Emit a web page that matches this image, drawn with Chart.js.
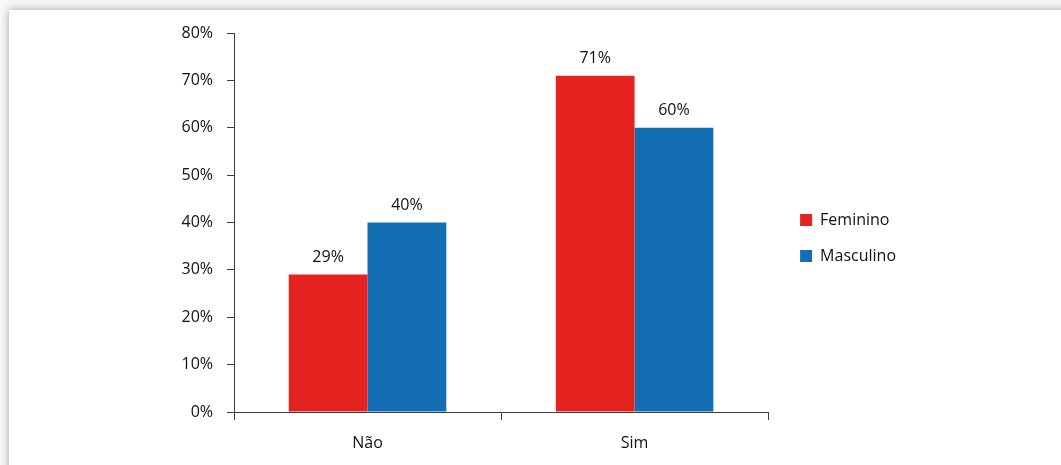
<!DOCTYPE html>
<html lang="pt">
<head>
<meta charset="utf-8">
<title>Feminino x Masculino</title>
<script src="https://cdn.jsdelivr.net/npm/chart.js@4/dist/chart.umd.min.js"></script>
<style>
  html, body { margin: 0; padding: 0; background: #f7f7f7; }
  body { width: 1061px; height: 465px; position: relative; overflow: hidden; }
  .card {
    position: absolute; left: 9px; top: 10px; width: 1100px; height: 500px;
    background: #fff; box-shadow: 0 0 8px rgba(0, 0, 0, 0.35);
  }
  #wrap { position: absolute; left: 0; top: 0; width: 1061px; height: 465px; }
</style>
</head>
<body>
<div class="card"></div>
<div id="wrap"><canvas id="chart"></canvas></div>
<script>
// categories and series (values in %)
const categories = ['Não', 'Sim'];
const feminino = [29, 71];
const masculino = [40, 60];
const seriesNames = ['Feminino', 'Masculino'];
const seriesColors = ['#e42320', '#146eb4'];

const textColor = '#111';
const axisColor = '#3c3c3c';
const font = { family: '"Open Sans", sans-serif', size: 16 };

// value labels above each bar
const barLabels = {
  id: 'barLabels',
  afterDatasetsDraw(chart) {
    const ctx = chart.ctx;
    ctx.save();
    ctx.font = `${font.size}px ${font.family}`;
    ctx.fillStyle = textColor;
    ctx.textAlign = 'center';
    ctx.textBaseline = 'alphabetic';
    chart.data.datasets.forEach((ds, i) => {
      chart.getDatasetMeta(i).data.forEach((bar, j) => {
        ctx.fillText(ds.data[j] + '%', bar.x, bar.y - 13);
      });
    });
    ctx.restore();
  }
};

// nudge the legend a bit away from the plot
const legendNudge = {
  id: 'legendNudge',
  afterLayout(chart) {
    const lg = chart.legend;
    lg.left += 12; lg.right += 12;
    lg.top -= 11; lg.bottom -= 11;
  }
};

new Chart(document.getElementById('chart'), {
  type: 'bar',
  data: {
    labels: categories,
    datasets: [
      { label: seriesNames[0], data: feminino, backgroundColor: seriesColors[0] },
      { label: seriesNames[1], data: masculino, backgroundColor: seriesColors[1] }
    ]
  },
  options: {
    responsive: true,
    maintainAspectRatio: false,
    animation: false,
    layout: { padding: { left: 154, top: 33, right: 167, bottom: 0 } },
    datasets: { bar: { categoryPercentage: 0.59, barPercentage: 1.0 } },
    plugins: {
      tooltip: { enabled: false },
      legend: {
        position: 'right',
        labels: { boxWidth: 12, boxHeight: 12, padding: 20, color: textColor, font: font }
      }
    },
    scales: {
      x: {
        grid: { drawOnChartArea: false, tickLength: 8, color: axisColor, offset: true },
        border: { color: axisColor },
        ticks: { color: textColor, font: font, padding: 14 },
        afterFit(scale) { scale.height = 53; }
      },
      y: {
        min: 0, max: 80,
        grid: { drawOnChartArea: false, tickLength: 7, color: axisColor },
        border: { color: axisColor },
        ticks: { stepSize: 10, color: textColor, font: font, padding: 14, callback: v => v + '%' },
        afterFit(scale) { scale.width = 80; }
      }
    }
  },
  plugins: [barLabels, legendNudge]
});
</script>
</body>
</html>
